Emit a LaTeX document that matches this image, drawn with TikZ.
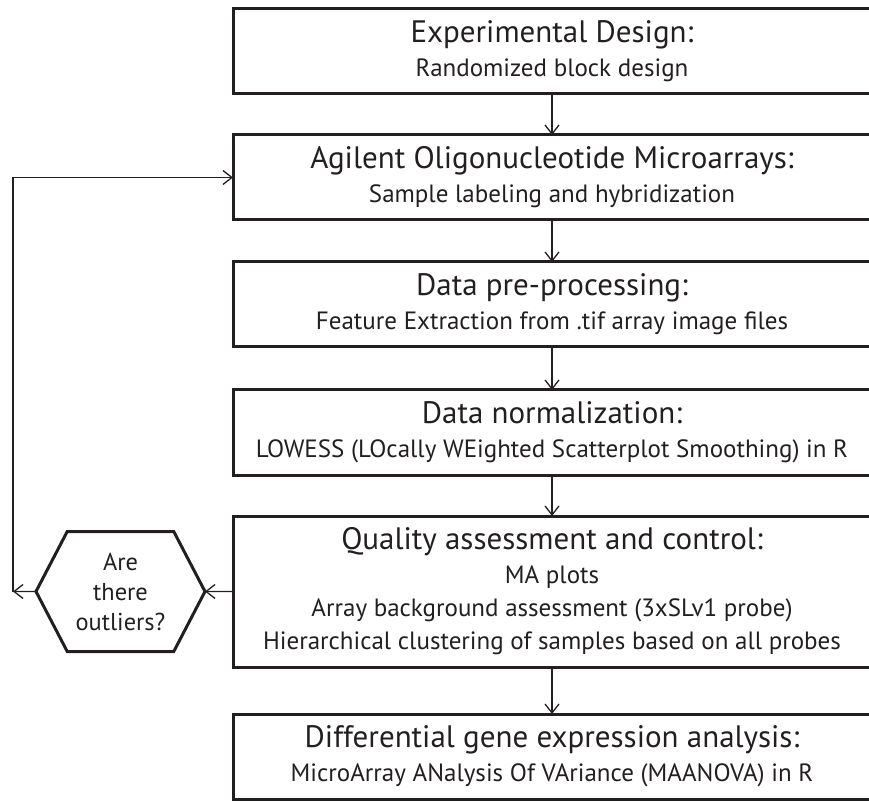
\documentclass[tikz,border=0pt]{standalone}
\usepackage{fontspec}
\setmainfont{PT Sans}
\usetikzlibrary{arrows.meta, positioning, shapes.symbols}
\definecolor{ink}{HTML}{231F20}
\newcommand{\boxhead}[1]{{\fontsize{31}{34}\selectfont #1}}

\begin{document}
\begin{tikzpicture}[
        x=1pt, y=1pt,
        node distance=41pt,
        box/.style={rectangle, draw=ink, line width=3pt, text=ink, minimum width=638pt, minimum height=85pt, outer sep=0pt, inner sep=0pt, align=center, font=\fontsize{25}{33}\selectfont},
        hexa/.style={signal, signal to=west and east, signal pointer angle=125, draw=ink, line width=3pt, text=ink, minimum width=169pt, minimum height=120pt, outer sep=0pt, inner sep=0pt, align=center, font=\fontsize{24.4}{30}\selectfont},
        arrow/.style={-{Straight Barb[length=9pt, width=14pt]}, line width=1.3pt, draw=ink}
    ]
        \useasboundingbox (0,0) rectangle (869,801);
        \node[box] (design) at (552,749.5) {\boxhead{Experimental Design:}\\[1pt]Randomized block design};
        \node[box, below=of design] (arrays) {\boxhead{Agilent Oligonucleotide Microarrays:}\\[1pt]Sample labeling and hybridization};
        \node[box, below=42pt of arrays] (preproc) {\boxhead{Data pre-processing:}\\[1pt]Feature Extraction from .tif array image files};
        \node[box, below=43pt of preproc] (norm) {\boxhead{Data normalization:}\\[1pt]LOWESS (LOcally WEighted Scatterplot Smoothing) in R};
        \node[box, below=of norm, minimum height=151pt] (quality) {\boxhead{Quality assessment and control:}\\[1pt]MA plots\\Array background assessment (3xSLv1 probe)\\Hierarchical clustering of samples based on all probes};
        \node[box, below=47pt of quality] (dge) {\boxhead{Differential gene expression analysis:}\\[1pt]MicroArray ANalysis Of VAriance (MAANOVA) in R};
        \node[hexa, left=28pt of quality] (outliers) {Are\\there\\outliers?};
        \coordinate[left=23pt of outliers.west] (turn);

        \draw[arrow] (design) -- (arrays);
        \draw[arrow] (arrays) -- (preproc);
        \draw[arrow] (preproc) -- (norm);
        \draw[arrow] (norm) -- (quality);
        \draw[arrow] (quality) -- (dge);
        \draw[arrow] (quality) -- (outliers);
        \draw[arrow] (outliers) -- (turn);
        \draw[arrow] (turn) |- (arrays);
    \end{tikzpicture}
\end{document}
